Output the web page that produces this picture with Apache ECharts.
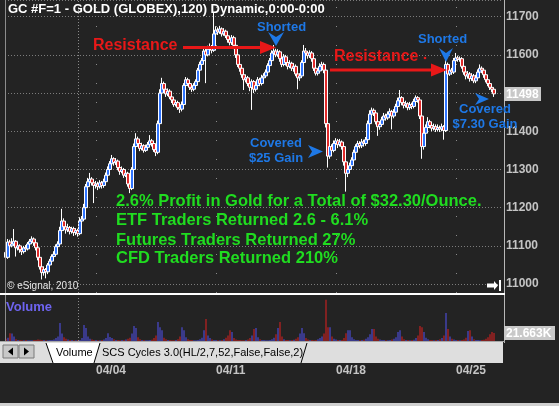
<!DOCTYPE html>
<html><head><meta charset="utf-8">
<script src="https://cdn.jsdelivr.net/npm/echarts@6/dist/echarts.min.js"></script>
<style>html,body{margin:0;padding:0;background:#232323;}#c{width:559px;height:406px;}</style>
</head><body><div id="c"></div>
<script>
// ---- data (GC 120-min bars) ----
const firstOpen = 11083;
const closes = [
11070,11110,11100,11105,11112,11095,11100,11090,11085,11095,
11092,11105,11112,11118,11108,11095,11070,11045,11030,11038,
11032,11050,11060,11072,11078,11098,11105,11140,11165,11150,
11142,11148,11138,11145,11135,11140,11132,11165,11170,11200,
11255,11268,11275,11265,11258,11262,11255,11265,11258,11268,
11285,11300,11315,11328,11318,11322,11305,11295,11300,11285,
11290,11262,11250,11300,11360,11380,11368,11355,11362,11350,
11358,11365,11375,11368,11352,11345,11420,11500,11525,11510,
11498,11505,11490,11482,11470,11475,11462,11458,11470,11520,
11535,11525,11515,11510,11520,11530,11560,11575,11585,11610,
11600,11615,11620,11612,11655,11665,11660,11668,11655,11662,
11650,11640,11632,11645,11625,11600,11575,11565,11548,11535,
11540,11525,11515,11530,11510,11520,11535,11525,11540,11545,
11555,11572,11585,11605,11610,11600,11608,11590,11575,11595,
11580,11570,11578,11565,11570,11550,11540,11545,11580,11610,
11605,11598,11605,11590,11565,11552,11558,11570,11575,11560,
11420,11335,11360,11350,11368,11375,11365,11372,11360,11320,
11290,11300,11310,11325,11345,11360,11368,11362,11372,11368,
11378,11420,11445,11455,11448,11425,11412,11418,11430,11440,
11435,11445,11452,11440,11450,11465,11480,11488,11475,11468,
11472,11462,11470,11465,11478,11488,11482,11440,11360,11395,
11410,11425,11415,11408,11412,11405,11410,11406,11412,11402,
11575,11550,11560,11555,11585,11592,11588,11590,11570,11555,
11545,11550,11538,11545,11532,11540,11555,11565,11560,11548,
11535,11525,11515,11510,11498];
const highs = [
11086,11118,11116,11120,11144,11115,11108,11104,11096,11100,
11102,11110,11118,11125,11122,11112,11098,11074,11050,11046,
11042,11055,11066,11078,11086,11104,11112,11150,11197,11172,
11156,11158,11152,11150,11150,11146,11145,11175,11178,11210,
11262,11278,11291,11280,11270,11270,11268,11272,11270,11276,
11292,11308,11322,11338,11332,11330,11326,11310,11308,11304,
11298,11294,11268,11306,11368,11395,11386,11372,11370,11366,
11365,11372,11390,11380,11372,11358,11428,11510,11540,11530,
11515,11512,11510,11495,11488,11482,11480,11468,11478,11526,
11542,11540,11530,11520,11526,11536,11566,11582,11592,11618,
11622,11624,11630,11626,11710,11675,11672,11676,11672,11670,
11666,11656,11648,11652,11650,11630,11605,11580,11570,11552,
11548,11545,11530,11536,11534,11528,11542,11540,11548,11552,
11562,11578,11592,11612,11626,11616,11615,11612,11596,11602,
11600,11585,11586,11582,11578,11575,11555,11552,11586,11626,
11618,11610,11612,11610,11594,11570,11565,11578,11582,11580,
11565,11426,11368,11366,11376,11382,11380,11380,11376,11364,
11325,11308,11318,11332,11352,11366,11375,11374,11380,11378,
11385,11428,11455,11462,11460,11452,11430,11426,11438,11448,
11446,11452,11460,11456,11458,11472,11488,11508,11492,11480,
11480,11476,11477,11475,11485,11494,11492,11486,11445,11402,
11418,11437,11430,11420,11420,11418,11418,11415,11420,11416,
11590,11580,11568,11566,11592,11605,11598,11596,11594,11575,
11560,11558,11555,11552,11550,11548,11562,11575,11570,11564,
11552,11540,11530,11520,11514];
const lows = [
11066,11066,11094,11096,11100,11072,11088,11082,11076,11080,
11085,11088,11100,11106,11100,11088,11062,11038,11012,11022,
11015,11026,11044,11055,11066,11074,11092,11100,11135,11140,
11132,11136,11130,11132,11126,11128,11124,11128,11138,11165,
11195,11250,11262,11258,11212,11250,11246,11250,11250,11252,
11262,11280,11295,11310,11310,11312,11298,11286,11290,11278,
11280,11255,11238,11246,11296,11355,11360,11348,11350,11344,
11346,11352,11360,11360,11346,11335,11340,11415,11494,11502,
11490,11492,11484,11474,11464,11465,11456,11448,11452,11466,
11515,11518,11508,11503,11505,11515,11526,11555,11570,11580,
11526,11596,11608,11604,11608,11650,11652,11655,11648,11650,
11644,11632,11625,11626,11615,11592,11568,11556,11540,11508,
11528,11518,11505,11456,11500,11504,11515,11518,11520,11534,
11540,11550,11566,11580,11600,11594,11595,11582,11568,11570,
11572,11562,11565,11558,11556,11544,11510,11532,11540,11575,
11598,11590,11592,11582,11558,11546,11546,11552,11564,11552,
11410,11305,11328,11340,11345,11362,11356,11360,11352,11310,
11242,11280,11292,11304,11320,11340,11354,11355,11356,11360,
11362,11372,11415,11440,11440,11418,11388,11404,11412,11424,
11428,11430,11438,11405,11434,11445,11460,11475,11468,11460,
11462,11455,11456,11458,11460,11472,11475,11432,11328,11352,
11388,11404,11408,11400,11402,11398,11400,11398,11400,11378,
11398,11542,11545,11548,11550,11580,11582,11582,11564,11548,
11536,11538,11530,11532,11526,11526,11535,11550,11552,11540,
11528,11518,11508,11502,11490];
const volumes = [
6000,9000,21000,20000,12000,5000,3000,2500,2000,2200,
2500,2000,1800,2200,3000,2800,4000,3500,3000,2500,
2200,2000,2500,3000,4000,8000,12000,48000,20000,10000,
6000,4000,3000,2500,2000,2200,2500,3000,8000,43000,
35000,12000,6000,4000,3000,2500,2000,2200,2500,4000,
8000,21000,11000,8000,5000,3000,2500,2000,2500,3000,
4000,6000,9000,20000,40000,35000,10000,5000,3000,2500,
2000,2200,2500,3500,8000,15000,51000,37000,29000,9000,
5000,3000,2500,2000,2200,3000,5000,12000,37000,29000,
10000,5000,3000,2500,2000,2200,3000,5000,9000,29000,
59000,15000,8000,4000,3000,2500,2000,2200,3000,5000,
9000,15000,29000,24000,8000,4000,3000,2500,2200,2000,
2500,4000,8000,15000,32000,35000,10000,5000,3000,2500,
2000,2200,3000,5000,9000,18000,35000,51000,12000,5000,
3000,2500,2000,2500,3500,6000,10000,20000,35000,21000,
8000,4000,3000,2500,2200,3000,5000,8000,12000,20000,
110000,37000,37000,12000,6000,4000,3000,2500,3000,8000,
21000,29000,29000,10000,5000,3000,2500,2000,2500,3500,
6000,10000,18000,32000,32000,12000,6000,4000,3000,2500,
2000,2200,3000,4000,6000,10000,24000,29000,12000,5000,
3000,2500,2200,2500,3500,8000,15000,40000,37000,24000,
9000,5000,3000,2500,2200,2500,3000,5000,8000,15000,
75000,32000,12000,6000,4000,3000,2500,2200,2500,4000,
9000,27000,29000,12000,5000,3000,2500,2200,2500,3500,
6000,10000,18000,24000,21663];
const tickIndex = [45, 105, 165, 225];
const tickLabels = ['04/04', '04/11', '04/18', '04/25'];
const monthStartIndex = 36;
const priceTicks = [11000, 11100, 11200, 11300, 11400, 11500, 11600, 11700];
const lastPriceLabel = '11498';
const lastVolumeLabel = '21.663K';
const slotCount = 249;
const priceMin = 10976.6, priceMax = 11743.7;

// ---- build ----
const FONT = '"Liberation Sans", Arial, sans-serif';
const BLUE = '#1e78e6', RED = '#e81818', GREEN = '#20dc20';
const cats = Array.from({length: slotCount}, (_, i) => 'b' + i);
const ohlc = closes.map((c, i) => [i === 0 ? firstOpen : closes[i - 1], c, lows[i], highs[i]]);
const isUp = ohlc.map(d => d[1] >= d[0]);
const lastClose = closes[closes.length - 1];
const lastVol = volumes[volumes.length - 1];

const chart = echarts.init(document.getElementById('c'), null, {renderer: 'canvas'});

function txt(text, x, y, font, fill, align) {
  return {type: 'text', z: 100, style: {text: text, x: x, y: y, font: font, fill: fill,
    align: align || 'left', verticalAlign: 'middle'}};
}
function poly(points, fill) {
  return {type: 'polygon', z: 100, shape: {points: points}, style: {fill: fill}};
}
function ln(x1, y1, x2, y2, stroke, w) {
  return {type: 'line', z: 90, shape: {x1: x1, y1: y1, x2: x2, y2: y2}, style: {stroke: stroke, lineWidth: w || 1}};
}

const option = {
  backgroundColor: '#232323',
  animation: false,
  grid: [
    {left: 5, right: 56, top: 0, height: 293},
    {left: 5, right: 56, top: 296, height: 45}
  ],
  xAxis: [
    {type: 'category', gridIndex: 0, data: cats, axisLine: {show: false}, axisTick: {show: false},
     axisLabel: {show: false}, splitLine: {show: false}},
    {type: 'category', gridIndex: 1, data: cats, axisLine: {show: false}, axisTick: {show: false},
     axisLabel: {show: true, interval: (i) => tickIndex.includes(i),
       formatter: (v, i) => { const k = tickIndex.indexOf(i); return k < 0 ? '' : tickLabels[k]; },
       align: 'left', margin: 24, color: '#c4c4c4', fontWeight: 'bold', fontSize: 12, fontFamily: FONT},
     splitLine: {show: false}}
  ],
  yAxis: [
    {type: 'value', gridIndex: 0, position: 'right', min: priceMin, max: priceMax, splitNumber: 8,
     axisLine: {show: false}, axisTick: {show: false},
     axisLabel: {margin: 3, color: '#c4c4c4', fontWeight: 'bold', fontSize: 12, fontFamily: FONT,
       formatter: (v) => { const r = Math.round(v); return (Math.abs(v - r) < 0.01 && priceTicks.includes(r)) ? String(r) : ''; }},
     splitLine: {show: true, lineStyle: {color: '#7c7c7c', type: [1, 2], width: 1}}},
    {type: 'value', gridIndex: 1, min: 0, max: 120000, axisLine: {show: false}, axisTick: {show: false},
     axisLabel: {show: false}, splitLine: {show: false}}
  ],
  series: [
    {type: 'candlestick', xAxisIndex: 0, yAxisIndex: 0, data: ohlc, barWidth: 3,
     itemStyle: {color: '#2f74ff', color0: '#e02a2a', borderColor: '#ffffff', borderColor0: '#ffffff', borderWidth: 1},
     markLine: {silent: true, symbol: 'none', animation: false, label: {show: false},
       data: [
         {xAxis: cats[monthStartIndex], lineStyle: {color: '#8a8a8a', type: [1, 2], width: 1}}
       ].concat(tickIndex.map(i => ({xAxis: cats[i], lineStyle: {color: '#8a8a8a', type: [1, 18], width: 1}})))
     }},
    {type: 'bar', xAxisIndex: 1, yAxisIndex: 1, barWidth: 1,
     data: volumes.map((v, i) => ({value: v, itemStyle: {color: isUp[i] ? '#5252f2' : '#e02020'}})),
     markLine: {silent: true, symbol: 'none', animation: false, label: {show: false},
       data: [
         {xAxis: cats[monthStartIndex], lineStyle: {color: '#8a8a8a', type: [1, 2], width: 1}}
       ]}}
  ],
  graphic: [
    // pane frames
    {type: 'rect', z: 95, shape: {x: 0, y: 293, width: 505, height: 2}, style: {fill: '#ffffff'}},
    ln(5.5, 0, 5.5, 341, '#8c8c8c'),
    ln(504.5, 0, 504.5, 343, '#b8b8b8'),
    ln(0, 341.5, 505, 341.5, '#a8a8a8'),
    // tab bar
    {type: 'rect', z: 95, shape: {x: 0, y: 342, width: 503, height: 21}, style: {fill: '#dedede'}},
    ln(0, 342.5, 503, 342.5, '#202020'),
    {type: 'rect', z: 96, shape: {x: 3, y: 345, width: 15, height: 13}, style: {fill: '#c8c8c8', stroke: '#7a7a7a', lineWidth: 1}},
    {type: 'rect', z: 96, shape: {x: 19, y: 345, width: 15, height: 13}, style: {fill: '#c8c8c8', stroke: '#7a7a7a', lineWidth: 1}},
    poly([[13, 347.5], [13, 355.5], [8, 351.5]], '#000000'),
    poly([[24, 347.5], [24, 355.5], [29, 351.5]], '#000000'),
    {type: 'polygon', z: 96, shape: {points: [[46, 343], [53, 363], [94, 363], [100, 343]]}, style: {fill: '#ffffff'}},
    {type: 'polyline', z: 97, shape: {points: [[46, 343], [53, 363]]}, style: {stroke: '#000', lineWidth: 1}},
    {type: 'polyline', z: 97, shape: {points: [[100, 343], [94, 363]]}, style: {stroke: '#000', lineWidth: 1}},
    {type: 'polyline', z: 97, shape: {points: [[307, 343], [301, 363]]}, style: {stroke: '#000', lineWidth: 1}},
    txt('Volume', 56, 353, '11px ' + FONT, '#000000'),
    txt('SCS Cycles 3.0(HL/2,7,52,False,False,2)', 102, 353, '11px ' + FONT, '#000000'),
    // bottom edge
    {type: 'rect', z: 95, shape: {x: 0, y: 403, width: 559, height: 3}, style: {fill: '#d0d0d0'}},
    // title & labels
    txt('GC #F=1 - GOLD (GLOBEX),120) Dynamic,0:00-0:00', 8, 9.5, 'bold 13px ' + FONT, '#ffffff'),
    txt('Volume', 6, 307, 'bold 13px ' + FONT, '#6e64f0'),
    txt('\u00a9 eSignal, 2010', 7, 286, '10px ' + FONT, '#e6e6e6'),
    poly([[487, 283.5], [494, 283.5], [494, 281], [498, 285.5], [494, 290], [494, 287.5], [487, 287.5]], '#ffffff'),
    {type: 'rect', z: 100, shape: {x: 499, y: 280, width: 2, height: 11}, style: {fill: '#ffffff'}},
    // resistance annotations
    txt('Resistance', 93, 46, 'bold 16px ' + FONT, RED),
    ln(183, 47.5, 262, 47.5, RED, 3),
    poly([[260, 41], [276, 47.5], [260, 54]], RED),
    txt('Resistance', 334, 57, 'bold 16px ' + FONT, RED),
    {type: 'circle', z: 100, shape: {cx: 425, cy: 58, r: 1.3}, style: {fill: RED}},
    ln(330, 70, 433, 70, RED, 3),
    poly([[431, 63.5], [447, 70], [431, 76.5]], RED),
    // shorted
    txt('Shorted', 257, 27, 'bold 13px ' + FONT, BLUE),
    poly([[268, 32], [276, 37], [284, 32], [276, 46]], BLUE),
    txt('Shorted', 418, 39, 'bold 13px ' + FONT, BLUE),
    poly([[439, 48], [446, 53], [453, 48], [446, 62]], BLUE),
    // covered
    txt('Covered', 276, 143, 'bold 13px ' + FONT, BLUE, 'center'),
    txt('$25 Gain', 276, 158, 'bold 13px ' + FONT, BLUE, 'center'),
    poly([[308, 145], [323, 151.5], [308, 158], [312, 151.5]], BLUE),
    txt('Covered', 485, 109, 'bold 13px ' + FONT, BLUE, 'center'),
    txt('$7.30 Gain', 485, 124, 'bold 13px ' + FONT, BLUE, 'center'),
    poly([[475, 93], [489, 99], [475, 105], [479, 99]], BLUE),
    // green summary
    txt('2.6% Profit in Gold for a Total of $32.30/Ounce.', 116, 201, 'bold 16.5px ' + FONT, GREEN),
    txt('ETF Traders Returned 2.6 - 6.1%', 116, 220, 'bold 16.5px ' + FONT, GREEN),
    txt('Futures Traders Returned 27%', 116, 240, 'bold 16.5px ' + FONT, GREEN),
    txt('CFD Traders Returned 210%', 116, 258, 'bold 16.5px ' + FONT, GREEN)
  ]
};
chart.setOption(option);

// last-value tags on the right scale, positioned through the library's scales
const yPrice = chart.convertToPixel({yAxisIndex: 0}, lastClose);
const yVol = chart.convertToPixel({yAxisIndex: 1}, lastVol);
function tag(id, y, text) {
  return [
    {id: id + 'bg', type: 'rect', z: 110, shape: {x: 504, y: Math.round(y) - 7, width: text.length > 5 ? 51 : 37, height: 14}, style: {fill: '#c8c8c8'}},
    {id: id + 'tx', type: 'text', z: 111, style: {text: text, x: 506, y: Math.round(y) + 0.5, font: 'bold 12px ' + FONT,
      fill: '#ffffff', align: 'left', verticalAlign: 'middle'}}
  ];
}
chart.setOption({graphic: option.graphic.concat(tag('p', yPrice, lastPriceLabel), tag('v', yVol, lastVolumeLabel))}, {replaceMerge: ['graphic']});
</script>
</body></html>
